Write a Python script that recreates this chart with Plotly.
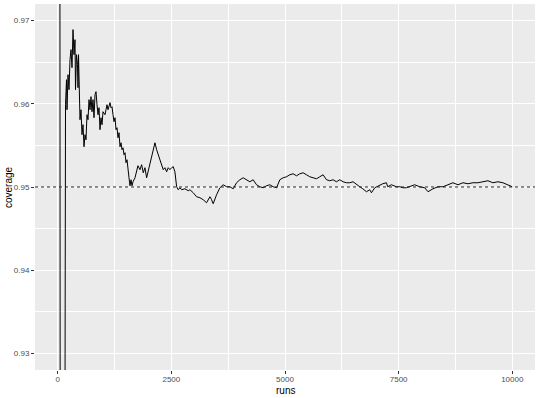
import plotly.graph_objects as go

TARGET = 0.95

runs = [1, 10, 20, 35, 48, 55, 90, 110, 118, 125, 130, 160,
        171, 193, 204, 226, 248, 270, 292, 314, 336, 358, 380, 391, 413, 435, 446, 457, 468,
        490, 512, 534, 556, 578, 600, 622, 644, 666, 688, 710, 732, 754, 776, 798, 820, 842,
        864, 886, 908, 930, 952, 974, 996, 1040, 1062, 1084, 1106, 1150, 1172, 1194, 1216,
        1238, 1260, 1282, 1304, 1326, 1348, 1370, 1392, 1414, 1436, 1458, 1480, 1502, 1524,
        1546, 1568, 1590, 1612, 1634, 1656, 1700, 1732, 1765, 1809, 1846, 1882, 1919, 1956,
        1985, 2029, 2073, 2101, 2139, 2176, 2211, 2249, 2286, 2321, 2358, 2396, 2431, 2468,
        2506, 2541, 2578, 2616, 2651, 2688, 2726, 2798, 2871, 2908, 2981, 3055, 3128, 3200,
        3275, 3310, 3348, 3385, 3420, 3495, 3567, 3640, 3715, 3787, 3860, 3934, 4007, 4080,
        4154, 4227, 4299, 4374, 4447, 4519, 4594, 4666, 4739, 4814, 4886, 4959, 5033, 5106,
        5178, 5253, 5326, 5398, 5473, 5546, 5618, 5693, 5765, 5838, 5913, 5985, 6058, 6132,
        6205, 6278, 6352, 6425, 6497, 6572, 6645, 6711, 6792, 6864, 6902, 6975, 7085, 7150,
        7232, 7260, 7341, 7451, 7524, 7597, 7671, 7744, 7853, 7963, 8073, 8146, 8256, 8366,
        8475, 8585, 8695, 8805, 8915, 9025, 9135, 9245, 9355, 9465, 9574, 9684, 9794, 9904,
        10000]

coverage = [1.0, 1.0, 1.0, 0.985, 0.979, 0.909, 0.911, 0.920, 0.915, 0.921, 0.918, 0.922,
            0.95989, 0.96290, 0.95929, 0.96350, 0.96170, 0.96531, 0.96651, 0.96435, 0.96892,
            0.96591, 0.96771, 0.96170, 0.96591, 0.96471, 0.96194, 0.96591, 0.96290,
            0.95809, 0.95929, 0.95629, 0.95749, 0.95484, 0.95629, 0.95568, 0.95869, 0.95809,
            0.96050, 0.95929, 0.96086, 0.95905, 0.96050, 0.95833, 0.96110, 0.96146,
            0.95989, 0.95869, 0.95953, 0.95689, 0.95833, 0.95749, 0.95905, 0.95869, 0.95929,
            0.95989, 0.95929, 0.96014, 0.95953, 0.95965, 0.95869,
            0.95785, 0.95833, 0.95689, 0.95713, 0.95592, 0.95653, 0.95484, 0.95532, 0.95448,
            0.95472, 0.95388, 0.95412, 0.95292, 0.95328,
            0.95183, 0.95111, 0.95015, 0.95087, 0.95015, 0.95063, 0.95111, 0.95183, 0.95256,
            0.95208, 0.95268, 0.95171, 0.95232, 0.95111,
            0.95183, 0.95292, 0.95388, 0.95448, 0.95532, 0.95448, 0.95388, 0.95328, 0.95244,
            0.95208, 0.95232, 0.95183, 0.95232, 0.95208,
            0.95232, 0.95244, 0.95183, 0.95003, 0.94967, 0.94991, 0.94967, 0.94979, 0.94955,
            0.94967, 0.94931, 0.94883, 0.94871, 0.94847,
            0.94811, 0.94847, 0.94883, 0.94847, 0.94799, 0.94907, 0.94991, 0.95027, 0.95003,
            0.95003, 0.94979, 0.95051, 0.95087, 0.95111,
            0.95087, 0.95063, 0.95087, 0.95027, 0.95003, 0.94991, 0.95015, 0.95027, 0.95003,
            0.94991, 0.95087, 0.95111, 0.95123, 0.95147,
            0.95159, 0.95135, 0.95159, 0.95171, 0.95147, 0.95123, 0.95111, 0.95099, 0.95123,
            0.95147, 0.95087, 0.95075, 0.95087, 0.95063,
            0.95087, 0.95063, 0.95051, 0.95051, 0.95063, 0.95027, 0.95003, 0.94979, 0.94943,
            0.94967, 0.94931, 0.94991, 0.95027, 0.95039,
            0.95051, 0.95003, 0.95027, 0.95003, 0.95003, 0.94991, 0.94991, 0.95003, 0.95027,
            0.95003, 0.94991, 0.94943, 0.94979, 0.95003,
            0.95003, 0.95027, 0.95051, 0.95027, 0.95051, 0.95039, 0.95051, 0.95051, 0.95063,
            0.95075, 0.95051, 0.95063, 0.95051, 0.95027,
            0.95003]

x_ticks = [0, 2500, 5000, 7500, 10000]
x_labels = ["0", "2500", "5000", "7500", "10000"]
y_ticks = [0.93, 0.94, 0.95, 0.96, 0.97]
y_labels = ["0.93", "0.94", "0.95", "0.96", "0.97"]

FONT = "Liberation Sans, Arial, sans-serif"

fig = go.Figure()
fig.add_trace(go.Scatter(x=runs, y=coverage, mode="lines",
                         line=dict(color="black", width=1), showlegend=False,
                         hoverinfo="skip"))
fig.add_hline(y=TARGET, line=dict(color="#222222", width=1, dash="3px,3px"))

axis_common = dict(
    showgrid=True, gridcolor="white", gridwidth=1.1,
    zeroline=False, showline=False, automargin=False,
    ticks="outside", ticklen=3, tickwidth=1, tickcolor="#333333",
    tickfont=dict(family=FONT, size=8, color="#4D4D4D"),
)

fig.update_layout(
    width=540, height=398,
    margin=dict(l=35, r=5, t=4, b=28),
    paper_bgcolor="white", plot_bgcolor="#EBEBEB",
    font=dict(family=FONT),
    xaxis=dict(range=[-500, 10500], tickvals=x_ticks, ticktext=x_labels,
               ticklabelstandoff=-2,
               minor=dict(dtick=1250, tick0=0, showgrid=True, gridcolor="white", gridwidth=0.5),
               **axis_common),
    yaxis=dict(range=[0.928, 0.972], tickvals=y_ticks, ticktext=y_labels,
               minor=dict(dtick=0.005, tick0=0.93, showgrid=True, gridcolor="white", gridwidth=0.5),
               **axis_common),
    annotations=[
        dict(text="runs", xref="paper", yref="paper", x=0.5, y=0, yshift=-20,
             xanchor="center", yanchor="middle", showarrow=False,
             font=dict(family=FONT, size=10, color="black")),
        dict(text="coverage", xref="paper", yref="paper", x=0, y=0.5, xshift=-27,
             xanchor="center", yanchor="middle", textangle=-90, showarrow=False,
             font=dict(family=FONT, size=10, color="black")),
    ],
)

fig.write_html("out.html", config={"displayModeBar": False},
               post_script="document.body.style.margin='0';")
